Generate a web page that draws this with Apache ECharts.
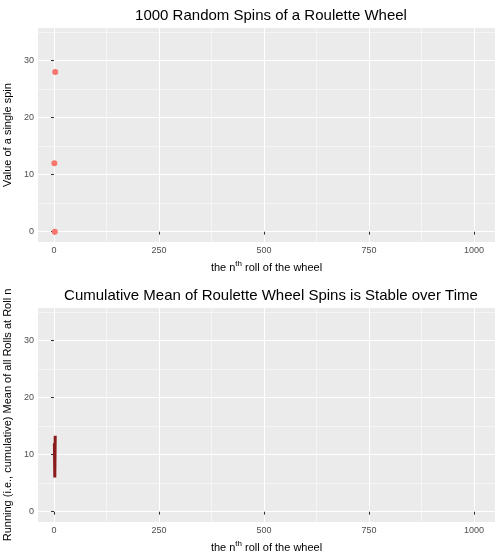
<!DOCTYPE html>
<html>
<head>
<meta charset="utf-8">
<script src="https://cdn.jsdelivr.net/npm/echarts@6/dist/echarts.min.js"></script>
<style>
	body { margin: 0; background: #fff; }
	#chart { width: 500px; height: 560px; }
</style>
</head>
<body>
<div id="chart"></div>
<script>
// spins
var rollIndex = [1, 2, 3];
var spinValues = [12, 0, 28];
var runningMean = [12, 6, 13.33];

var xMajor = [0, 250, 500, 750, 1000];
var xMinor = [125, 375, 625, 875];
var yMajor = [0, 10, 20, 30];
var yMinor = [5, 15, 25, 35];

var chart = echarts.init(document.getElementById('chart'));

function gridLines(gridIdx) {
	var data = [];
	xMajor.forEach(function (v) { data.push({ xAxis: v, lineStyle: { width: 1.1 } }); });
	xMinor.forEach(function (v) { data.push({ xAxis: v, lineStyle: { width: 0.5 } }); });
	yMajor.forEach(function (v) { data.push({ yAxis: v, lineStyle: { width: 1.1 } }); });
	yMinor.forEach(function (v) { data.push({ yAxis: v, lineStyle: { width: 0.5 } }); });
	return {
		type: 'scatter',
		xAxisIndex: gridIdx,
		yAxisIndex: gridIdx,
		data: [],
		z: 0,
		silent: true,
		markLine: {
			silent: true,
			z: 0,
			symbol: 'none',
			label: { show: false },
			lineStyle: { color: '#ffffff', type: 'solid' },
			animation: false,
			data: data
		}
	};
}

function xAxisFor(gridIdx) {
	return {
		type: 'value',
		gridIndex: gridIdx,
		min: -38,
		max: 1050,
		name: '{n|the n}{s|th}{n| roll of the wheel}',
		nameLocation: 'middle',
		nameGap: 18,
		nameTextStyle: { rich: { n: { fontSize: 11, color: '#000' }, s: { fontSize: 8, color: '#000', verticalAlign: 'bottom', padding: [0, 0, 8, 0] } } },
		axisLine: { show: false },
		splitLine: { show: false },
		axisTick: { show: true, length: 3, lineStyle: { color: '#333' }, customValues: xMajor },
		axisLabel: { color: '#4d4d4d', fontSize: 9, margin: 4, customValues: xMajor, formatter: function (v) { return String(v); } }
	};
}

function yAxisFor(gridIdx, name) {
	return {
		type: 'value',
		gridIndex: gridIdx,
		min: -1.8,
		max: 35.7,
		name: name,
		nameLocation: 'middle',
		nameGap: 24,
		nameTextStyle: { fontSize: 11, color: '#000' },
		axisLine: { show: false },
		splitLine: { show: false },
		axisTick: { show: true, length: 3, lineStyle: { color: '#333' }, customValues: yMajor },
		axisLabel: { color: '#4d4d4d', fontSize: 9, margin: 4, customValues: yMajor }
	};
}

chart.setOption({
	animation: false,
	textStyle: { fontFamily: 'Liberation Sans' },
	title: [
		{ text: '1000 Random Spins of a Roulette Wheel', left: 266, top: 3, textAlign: 'center', textStyle: { fontSize: 15, fontWeight: 'normal', color: '#000' } },
		{ text: 'Cumulative Mean of Roulette Wheel Spins is Stable over Time', left: 266, top: 283, textAlign: 'center', textStyle: { fontSize: 15, fontWeight: 'normal', color: '#000' } }
	],
	grid: [
		{ left: 38, right: 5, top: 28, height: 214, outerBoundsMode: 'none', show: true, backgroundColor: '#EBEBEB', borderWidth: 0 },
		{ left: 38, right: 5, top: 308, height: 214, outerBoundsMode: 'none', show: true, backgroundColor: '#EBEBEB', borderWidth: 0 }
	],
	xAxis: [xAxisFor(0), xAxisFor(1)],
	yAxis: [yAxisFor(0, 'Value of a single spin'), yAxisFor(1, 'Running (i.e., cumulative) Mean of all Rolls at Roll n')],
	series: [
		gridLines(0),
		gridLines(1),
		{
			type: 'scatter',
			xAxisIndex: 0,
			yAxisIndex: 0,
			z: 5,
			symbolSize: 6,
			itemStyle: { color: '#F8766D', opacity: 1 },
			data: rollIndex.map(function (x, i) { return [x, spinValues[i]]; })
		},
		{
			type: 'line',
			xAxisIndex: 1,
			yAxisIndex: 1,
			z: 5,
			showSymbol: false,
			lineStyle: { color: '#8B1A1A', width: 3 },
			data: rollIndex.map(function (x, i) { return [x, runningMean[i]]; })
		}
	]
});
</script>
</body>
</html>
